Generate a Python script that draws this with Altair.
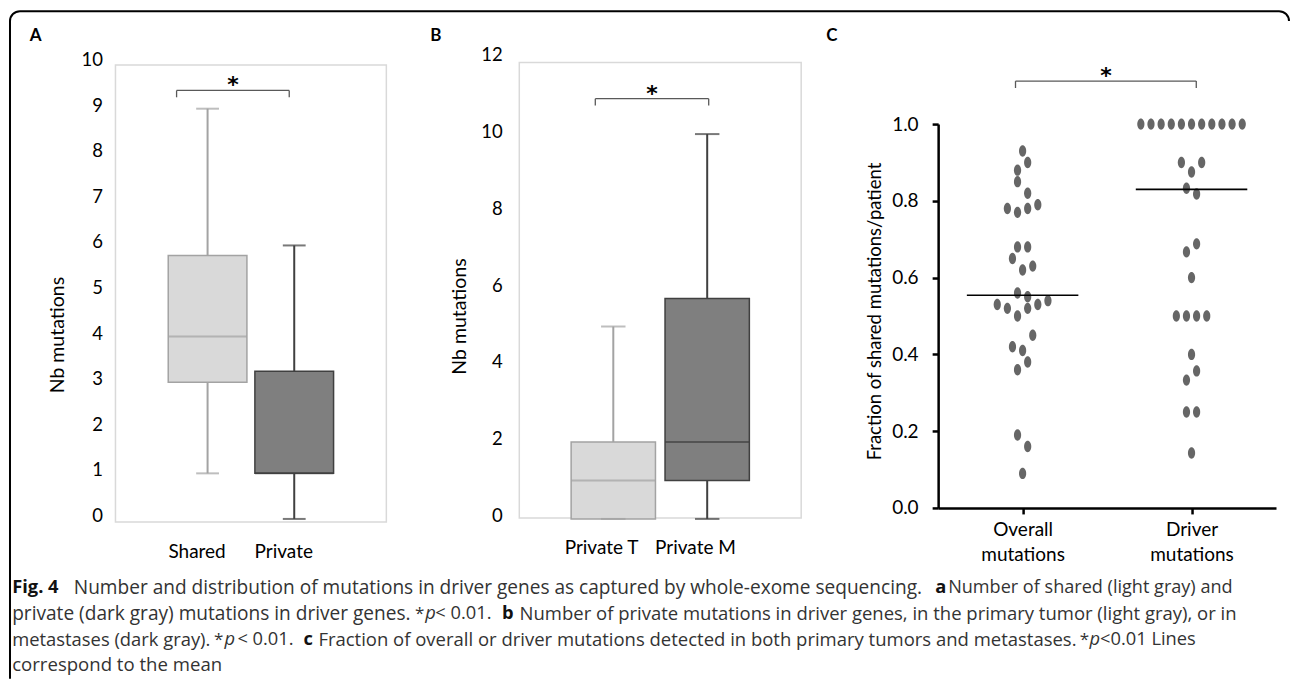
import altair as alt
import pandas as pd

# ---------------- values ----------------
a_groups = ["Shared", "Private"]
a_lower = [1, 0]
a_q1 = [3, 1]
a_median = [4, 1]
a_q3 = [5.78, 3.24]
a_upper = [9, 6]
a_ticks = [0, 1, 2, 3, 4, 5, 6, 7, 8, 9, 10]
a_bracket = [9.40, 9.25]

b_groups = ["Private T", "Private M"]
b_lower = [0, 0]
b_q1 = [0, 1]
b_median = [1, 2]
b_q3 = [2, 5.73]
b_upper = [5, 10]
b_ticks = [0, 2, 4, 6, 8, 10, 12]
b_bracket = [10.92, 10.74]

c_groups = ["Overall mutations", "Driver mutations"]
overall_values = [0.93, 0.90, 0.88, 0.85, 0.82, 0.78, 0.77, 0.78, 0.79, 0.68,
                  0.68, 0.65, 0.62, 0.63, 0.56, 0.55, 0.54, 0.53, 0.52, 0.53,
                  0.52, 0.50, 0.45, 0.42, 0.41, 0.38, 0.36, 0.19, 0.16, 0.09]
overall_slots = [0, 1, -1, -1, 1, -3, -1, 1, 3, -1,
                 1, -2, 0, 2, -1, 1, 5, -5, -3, 3,
                 1, -1, 2, -2, 0, 1, -1, -1, 1, 0]
driver_values = [1.0, 1.0, 1.0, 1.0, 1.0, 1.0, 1.0, 1.0, 1.0, 1.0, 1.0,
                 0.90, 0.90, 0.875, 0.833, 0.818, 0.667, 0.688, 0.60,
                 0.50, 0.50, 0.50, 0.50, 0.40, 0.357, 0.333, 0.25, 0.25, 0.143]
driver_slots = [-10, -8, -6, -4, -2, 0, 2, 4, 6, 8, 10,
                -2, 2, 0, -1, 1, -1, 1, 0,
                -3, -1, 1, 3, 0, 1, -1, -1, 1, 0]
c_means = [0.554, 0.83]
c_ticks = [0.0, 0.2, 0.4, 0.6, 0.8, 1.0]
c_bracket = [1.112, 1.094]

caption_lines = [
    [("bold", "Fig. 4"),
     ("regular", "Number and distribution of mutations in driver genes as captured by whole-exome sequencing."),
     ("bold", "a"), ("regular", "Number of shared (light gray) and")],
    [("regular", "private (dark gray) mutations in driver genes."), ("star", "*"), ("italic", "p"),
     ("regular", "< 0.01."), ("bold", "b"),
     ("regular", "Number of private mutations in driver genes, in the primary tumor (light gray), or in")],
    [("regular", "metastases (dark gray)."), ("star", "*"), ("italic", "p"), ("regular", "< 0.01."),
     ("bold", "c"),
     ("regular", "Fraction of overall or driver mutations detected in both primary tumors and metastases."),
     ("star", "*"), ("italic", "p"), ("regular", "<0.01 Lines")],
    [("regular", "correspond to the mean")],
]

# ---------------- layout (pixels) ----------------
FONT = "Lato"
CAP_FONT = "Open Sans"
STAR_FONT = "DejaVu Sans"
H = 462
A_W, B_W, C_W = 271, 286, 338
SPACING = 133
OX, OY = 115, 57            # page position of panel A's plot origin
# left edge of each caption piece ("*" pieces: right edge)
caption_x = [[11.7, 73.3, 935, 948],
             [11.7, 424, 425, 435, 501.7, 519.3],
             [11.7, 223, 224, 237, 303, 318, 1089, 1089.5, 1100],
             [11.7]]
caption_fs = [[18.3, 19.1, 18.3, 18.1],
              [19.1, 17, 18.3, 18.3, 18.3, 18.5],
              [18.4, 17, 18.3, 18.3, 18.3, 18.5, 17, 18.3, 18.3],
              [18.6]]
caption_y = [588, 614, 640, 665]

ONE = pd.DataFrame({"k": [0]})
LIGHT_FILL, DARK_FILL = "#d9d9d9", "#7f7f7f"
LIGHT_LINE, DARK_LINE = "#a3a3a3", "#404040"
BRK = "#595959"


def box_panel(groups, lower, q1, median, q3, upper, ticks, ymax, yrange, xwidth,
              pin, pout, frame, lab_pad, lab_dx, lab_dy, title_xy, bracket, offs,
              letter, letter_x):
    n = len(groups)
    step = xwidth / (n - pin + 2 * pout)
    bw = step * (1 - pin)
    df = pd.DataFrame({"grp": groups, "lower": lower, "q1": q1, "median": median,
                       "q3": q3, "upper": upper})
    xs = alt.Scale(domain=groups, range=[0, xwidth], paddingInner=pin, paddingOuter=pout)
    ys = alt.Scale(domain=[0, ymax], range=yrange, nice=False)
    fills = alt.Scale(domain=groups, range=[LIGHT_FILL, DARK_FILL])
    lines = alt.Scale(domain=groups, range=[LIGHT_LINE, DARK_LINE])
    xa = alt.X("grp:N", scale=xs, sort=groups)

    def Y(f, axis=alt.Undefined):
        return alt.Y(f"{f}:Q", scale=ys, axis=axis)

    yaxis = alt.Axis(values=ticks, domain=False, ticks=False, tickSize=0, labelPadding=lab_pad[0],
                     labelOffset=lab_dy, labelFlush=False, grid=False, title="Nb mutations",
                     orient="left", titleX=title_xy[0], titleY=title_xy[1], titleAlign="center",
                     titleBaseline="middle")
    xaxis = alt.Axis(title=None, domain=False, ticks=False, tickSize=0, labelPadding=lab_pad[1],
                     labelBaseline="middle", labelOffset=lab_dx, labelAngle=0, labelFontSize=19,
                     labelFlush=False, orient="bottom")
    base = alt.Chart(df)
    frame_l = alt.Chart(ONE).mark_rect(fillOpacity=0, stroke="#d9d9d9", strokeWidth=1.5).encode(
        x=alt.value(0), x2=alt.value(frame[0]), y=alt.value(frame[1]), y2=alt.value(frame[2]))
    stroke = alt.Stroke("grp:N", scale=lines, legend=None)
    color = alt.Color("grp:N", scale=lines, legend=None)
    box = base.mark_bar(strokeWidth=1.5).encode(
        x=alt.X("grp:N", scale=xs, axis=xaxis, sort=groups), y=Y("q1", yaxis), y2="q3:Q",
        fill=alt.Fill("grp:N", scale=fills, legend=None), stroke=stroke)
    w_lo = base.mark_rule(strokeWidth=2).encode(x=xa, y=Y("lower"), y2="q1:Q", stroke=stroke)
    w_hi = base.mark_rule(strokeWidth=2).encode(x=xa, y=Y("q3"), y2="upper:Q", stroke=stroke)
    med = base.mark_tick(size=bw, thickness=2).encode(x=xa, y=Y("median"), color=color)
    cap_lo = base.mark_tick(size=bw * 0.29, thickness=2).encode(x=xa, y=Y("lower"), color=color)
    cap_hi = base.mark_tick(size=bw * 0.29, thickness=2).encode(x=xa, y=Y("upper"), color=color)

    brd = pd.DataFrame({"g1": [groups[0]], "g2": [groups[1]], "top": [bracket[0]], "foot": [bracket[1]]})
    bx1 = alt.X("g1:N", scale=xs, sort=groups)
    bx2 = alt.X("g2:N", scale=xs, sort=groups)
    h = alt.Chart(brd).mark_rule(color=BRK, strokeWidth=1.3, xOffset=offs[0], x2Offset=offs[1]).encode(
        x=bx1, x2="g2", y=Y("top"))
    l1 = alt.Chart(brd).mark_rule(color=BRK, strokeWidth=1.3, xOffset=offs[0]).encode(
        x=bx1, y=Y("top"), y2="foot:Q")
    l2 = alt.Chart(brd).mark_rule(color=BRK, strokeWidth=1.3, xOffset=offs[1]).encode(
        x=bx2, y=Y("top"), y2="foot:Q")
    star_dx = (step + offs[0] + offs[1]) / 2
    star = alt.Chart(brd).mark_text(text="*", dx=star_dx, dy=2, baseline="alphabetic", fontSize=22,
                                    fontWeight="bold", font=STAR_FONT, color="black").encode(x=bx1, y=Y("top"))
    let = alt.Chart(ONE).mark_text(text=letter, align="left", baseline="alphabetic", fontSize=17,
                                   fontWeight="bold", font=FONT, color="black").encode(
        x=alt.value(letter_x), y=alt.value(-16.3))
    return [frame_l, box, w_lo, w_hi, med, cap_lo, cap_hi, h, l1, l2, star, let]


a_layers = box_panel(a_groups, a_lower, a_q1, a_median, a_q3, a_upper, a_ticks, 10, [462, 6], A_W,
                     0.092, 0.609, [A_W, 8, 465], [13, 33], -10.5, -3.5, [-57.5, 277.6],
                     a_bracket, [-31, -5], "A", 29.3 - OX)
b_layers = box_panel(b_groups, b_lower, b_q1, b_median, b_q3, b_upper, b_ticks, 12, [462, 0], 282,
                     0.102, 0.552, [282, 5.5, 461], [17, 29], -11.7, -3, [-60, 259],
                     b_bracket, [-18, 1.5], "B", -89)

# ---- caption and figure border (drawn in panel A's layer, in page pixels) ----
rows = []
for li, segs in enumerate(caption_lines):
    for (style, txt), xp, fs in zip(segs, caption_x[li], caption_fs[li]):
        rows.append({"px": xp - OX, "py": caption_y[li] - OY, "text": txt, "style": style, "fs": fs})
cap = pd.DataFrame(rows)


def cap_layer(style, weight, fstyle, color, align="left"):
    return alt.Chart(cap).transform_filter(alt.datum.style == style).mark_text(
        align=align, baseline="middle", font=CAP_FONT, fontWeight=weight,
        fontStyle=fstyle, color=color).encode(
        x=alt.X("px:Q", scale=None, axis=None), y=alt.Y("py:Q", scale=None, axis=None),
        size=alt.Size("fs:Q", scale=None, legend=None), text="text:N")


cap_layers = [cap_layer("regular", "normal", "normal", "#333333"),
              cap_layer("star", "normal", "normal", "#333333", align="right"),
              cap_layer("bold", "bold", "normal", "#111111"),
              cap_layer("italic", "normal", "italic", "#333333")]

border = pd.DataFrame({"x1": [19.5 - OX, 9.5 - OX], "y1": [11 - OY, 21 - OY],
                       "x2": [1279 - OX, 9.5 - OX], "y2": [11 - OY, 679 - OY]})
border_l = alt.Chart(border).mark_rule(color="black", strokeWidth=2).encode(
    x=alt.X("x1:Q", scale=None, axis=None), x2="x2", y=alt.Y("y1:Q", scale=None, axis=None), y2="y2")
arc_tl = alt.Chart(ONE).mark_arc(radius=11, radius2=9, theta=4.712389, theta2=6.283185, color="black").encode(
    x=alt.value(19.5 - OX), y=alt.value(21 - OY))
arc_tr = alt.Chart(ONE).mark_arc(radius=11, radius2=9, theta=0, theta2=1.570796, color="black").encode(
    x=alt.value(1279 - OX), y=alt.value(21 - OY))

panel_a = alt.layer(*a_layers, *cap_layers, border_l, arc_tl, arc_tr).properties(width=A_W, height=H)
panel_b = alt.layer(*b_layers).properties(width=B_W, height=H)

# ---------------- panel C ----------------
c_df = pd.DataFrame({
    "grp": [c_groups[0]] * len(overall_values) + [c_groups[1]] * len(driver_values),
    "value": overall_values + driver_values,
    "slot": overall_slots + driver_slots,
})
c_df["idx"] = [c_groups.index(g) + 1 for g in c_df["grp"]]
xs_c = alt.Scale(domain=[0.5, 2.5], nice=False, zero=False)
ys_c = alt.Scale(domain=[0, 1], range=[451, 67], nice=False)
xaxis_c = alt.Axis(values=[1, 2], title=None, labelExpr=f"split({c_groups!r}[datum.value - 1], ' ')",
                   offset=-11, domainColor="black", domainWidth=2.5, tickColor="black", tickWidth=2.5,
                   tickSize=6, labelPadding=16, labelBaseline="middle", labelLineHeight=25,
                   labelAngle=0, labelFontSize=19, labelFlush=False, grid=False, orient="bottom")
yaxis_c = alt.Axis(values=c_ticks, format=".1f", domainColor="black", domainWidth=2.5,
                   tickColor="black", tickWidth=2.5, tickSize=6, labelPadding=14, labelFlush=False,
                   labelFontSize=19, grid=False, title="Fraction of shared mutations/patient",
                   titleFontSize=18.5, titleX=-64, titleY=254, titleAlign="center",
                   titleBaseline="middle", orient="left")
ELLIPSE = "M0,-1A0.63,1,0,1,1,0,1A0.63,1,0,1,1,0,-1Z"
dots = alt.Chart(c_df).transform_calculate(xpos="datum.idx + datum.slot * 0.030").mark_point(
    shape=ELLIPSE, filled=True, size=130, color="#666666", opacity=1, strokeWidth=0).encode(
    x=alt.X("xpos:Q", scale=xs_c, axis=xaxis_c), y=alt.Y("value:Q", scale=ys_c, axis=yaxis_c))
mean_df = pd.DataFrame({"idx": [1, 2], "mean": c_means})
means = alt.Chart(mean_df).transform_calculate(lo="datum.idx - 0.33", hi="datum.idx + 0.33").mark_rule(
    color="black", strokeWidth=1.6).encode(
    x=alt.X("lo:Q", scale=xs_c), x2="hi:Q", y=alt.Y("mean:Q", scale=ys_c))
cb = pd.DataFrame({"lo": [1 - 0.042], "hi": [2 + 0.028], "top": [c_bracket[0]], "foot": [c_bracket[1]]})
cb_h = alt.Chart(cb).mark_rule(color=BRK, strokeWidth=1.3).encode(
    x=alt.X("lo:Q", scale=xs_c), x2="hi:Q", y=alt.Y("top:Q", scale=ys_c))
cb_l1 = alt.Chart(cb).mark_rule(color=BRK, strokeWidth=1.3).encode(
    x=alt.X("lo:Q", scale=xs_c), y=alt.Y("top:Q", scale=ys_c), y2="foot:Q")
cb_l2 = alt.Chart(cb).mark_rule(color=BRK, strokeWidth=1.3).encode(
    x=alt.X("hi:Q", scale=xs_c), y=alt.Y("top:Q", scale=ys_c), y2="foot:Q")
cb_star = alt.Chart(cb).transform_calculate(mid="(datum.lo + datum.hi) / 2").mark_text(
    text="*", dy=2, baseline="alphabetic", fontSize=22, fontWeight="bold", font=STAR_FONT,
    color="black").encode(
    x=alt.X("mid:Q", scale=xs_c), y=alt.Y("top:Q", scale=ys_c))
c_letter = alt.Chart(ONE).mark_text(text="C", align="left", baseline="alphabetic", fontSize=17,
                                    fontWeight="bold", font=FONT, color="black").encode(
    x=alt.value(-112), y=alt.value(-16.3))
panel_c = alt.layer(dots, means, cb_h, cb_l1, cb_l2, cb_star, c_letter).properties(width=C_W, height=H)

chart = alt.hconcat(panel_a, panel_b, panel_c, spacing=SPACING, bounds="flush").resolve_scale(
    fill="independent", stroke="independent", color="independent").properties(
    padding={"left": 8.5, "top": 10, "right": 0, "bottom": 0}, background="white").configure_view(
    strokeWidth=0).configure_axis(labelFont=FONT, titleFont=FONT, labelColor="black", titleColor="black",
                                  labelFontSize=18.5, titleFontSize=19.5, titleFontWeight="normal",
                                  grid=False)

chart.save("out.html", embed_options={"renderer": "svg", "actions": False})
